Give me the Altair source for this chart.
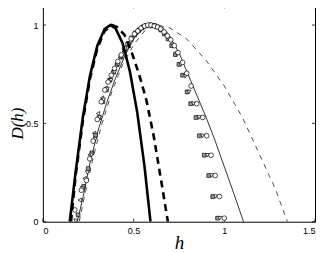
import altair as alt
import pandas as pd

# ---- data ----
# thick solid curve
ts_h = [0.148, 0.18, 0.22, 0.26, 0.30, 0.34, 0.372, 0.40, 0.44, 0.48, 0.52, 0.56, 0.593]
ts_D = [0.0, 0.25, 0.53, 0.745, 0.895, 0.98, 1.0, 0.984, 0.906, 0.763, 0.556, 0.283, 0.0]
# thick dashed curve
td_h = [0.155, 0.18, 0.22, 0.26, 0.30, 0.34, 0.38, 0.41, 0.45, 0.49, 0.53, 0.57, 0.61, 0.65, 0.689]
td_D = [0.0, 0.23, 0.51, 0.73, 0.88, 0.97, 1.0, 0.99, 0.95, 0.86, 0.75, 0.62, 0.44, 0.22, 0.0]
# thin solid curve
ns_h = [0.19, 0.22, 0.26, 0.30, 0.35, 0.40, 0.45, 0.50, 0.55, 0.60, 0.65, 0.70, 0.75, 0.80, 0.85, 0.90, 0.95, 1.00, 1.05, 1.106]
ns_D = [0.0, 0.12, 0.30, 0.45, 0.60, 0.73, 0.84, 0.93, 0.98, 1.0, 0.985, 0.94, 0.86, 0.75, 0.64, 0.53, 0.41, 0.28, 0.15, 0.0]
# thin dashed curve
nd_h = [0.20, 0.23, 0.27, 0.32, 0.38, 0.44, 0.50, 0.56, 0.63, 0.70, 0.79, 0.90, 1.00, 1.10, 1.20, 1.28, 1.348]
nd_D = [0.0, 0.13, 0.30, 0.48, 0.66, 0.80, 0.90, 0.97, 1.0, 0.985, 0.932, 0.82, 0.69, 0.53, 0.33, 0.17, 0.0]

# circles
c_h = [0.176, 0.212, 0.240, 0.258, 0.277, 0.300, 0.322, 0.341, 0.359, 0.377, 0.395, 0.413, 0.432,
       0.450, 0.468, 0.486, 0.505, 0.523, 0.541, 0.560, 0.578, 0.596, 0.614, 0.632, 0.650, 0.668,
       0.686, 0.705, 0.725, 0.745, 0.770, 0.793, 0.817, 0.848, 0.881, 0.903, 0.927, 0.950, 0.973, 1.000]
c_D = [0.06, 0.16, 0.21, 0.32, 0.41, 0.52, 0.61, 0.67, 0.71, 0.745, 0.78, 0.815, 0.848,
       0.88, 0.905, 0.93, 0.955, 0.97, 0.985, 0.995, 1.0, 1.0, 0.995, 0.99, 0.98, 0.965,
       0.945, 0.925, 0.895, 0.86, 0.81, 0.755, 0.69, 0.60, 0.53, 0.437, 0.338, 0.235, 0.128, 0.018]
# gray squares
s_h = [0.194, 0.225, 0.250, 0.270, 0.290, 0.310, 0.330, 0.350, 0.370, 0.390, 0.410, 0.430, 0.450,
       0.470, 0.490, 0.510, 0.530, 0.550, 0.570, 0.590, 0.610, 0.630, 0.650, 0.670, 0.690, 0.710,
       0.730, 0.750, 0.770, 0.795, 0.815, 0.844, 0.863, 0.890, 0.914, 0.936, 0.963]
s_D = [0.035, 0.18, 0.27, 0.35, 0.44, 0.53, 0.61, 0.67, 0.72, 0.76, 0.80, 0.84, 0.875,
       0.905, 0.935, 0.96, 0.975, 0.99, 0.998, 1.0, 0.998, 0.99, 0.975, 0.955, 0.93, 0.895,
       0.85, 0.80, 0.745, 0.66, 0.60, 0.53, 0.437, 0.338, 0.235, 0.128, 0.018]
# down triangles
t_h = [0.181, 0.218, 0.245, 0.268, 0.288, 0.312, 0.335, 0.355, 0.375, 0.395, 0.415, 0.435, 0.455,
       0.475, 0.495, 0.515, 0.535, 0.555, 0.575, 0.595, 0.615, 0.635, 0.655, 0.675, 0.695, 0.715,
       0.738, 0.760, 0.785, 0.805, 0.830, 0.860, 0.880, 0.907, 0.930, 0.952, 0.975]
t_D = [0.005, 0.17, 0.25, 0.34, 0.42, 0.53, 0.62, 0.675, 0.72, 0.76, 0.80, 0.84, 0.87,
       0.90, 0.93, 0.955, 0.975, 0.99, 0.998, 1.0, 0.998, 0.99, 0.975, 0.955, 0.93, 0.90,
       0.855, 0.80, 0.74, 0.66, 0.60, 0.53, 0.437, 0.338, 0.235, 0.128, 0.018]
# left triangles
l_h = [0.203, 0.230, 0.258, 0.282, 0.304, 0.326, 0.346, 0.366, 0.386, 0.406, 0.426, 0.446, 0.466,
       0.486, 0.506, 0.526, 0.546, 0.566, 0.586]
l_D = [0.11, 0.22, 0.34, 0.45, 0.55, 0.63, 0.68, 0.725, 0.765, 0.80, 0.835, 0.865, 0.895,
       0.925, 0.95, 0.97, 0.985, 0.995, 1.0]

x_ticks = [0, 0.5, 1, 1.5]
y_ticks = [0, 0.5, 1]

W, H = 273, 217
xs = alt.Scale(domain=[0, 1.5], nice=False)
ys = alt.Scale(domain=[0, 1.1], nice=False)

lbl = "datum.value == 0 ? '0' : datum.value == 1 ? '1' : datum.value == 0.5 ? '0.5' : '1.5'"

xax = alt.Axis(values=x_ticks, ticks=False, domain=False, grid=False, labelFontSize=9,
               labelFont="Liberation Sans", labelColor="black", labelPadding=5,
               labelExpr=lbl,
               title="h", titleFont="Liberation Serif", titleFontStyle="italic",
               titleFontWeight="normal", titleFontSize=19, titleColor="black",
               titlePadding=0, titleY=21, titleBaseline="middle")
yax = alt.Axis(values=y_ticks, ticks=False, domain=False, grid=False, labelFontSize=9,
               labelFont="Liberation Sans", labelColor="black", labelPadding=5,
               labelExpr=lbl,
               title="D(h)", titleFont="Liberation Serif", titleFontStyle="italic",
               titleFontWeight="normal", titleFontSize=17, titleColor="black",
               titleX=-25, titleY=118, titleAngle=-90, titleAlign="center",
               titleBaseline="middle")


def line_layer(h, d, width, dash=None):
    df = pd.DataFrame({"h": h, "D": d})
    kw = dict(color="black", strokeWidth=width, clip=True)
    if dash:
        kw["strokeDash"] = dash
    return alt.Chart(df).mark_line(**kw).encode(
        x=alt.X("h:Q", scale=xs, axis=xax),
        y=alt.Y("D:Q", scale=ys, axis=yax),
    )


def point_layer(h, d, shape, fill, size):
    df = pd.DataFrame({"h": h, "D": d})
    return alt.Chart(df).mark_point(shape=shape, filled=True, fill=fill, stroke="black",
                                    strokeWidth=0.7, size=size, opacity=1).encode(
        x=alt.X("h:Q", scale=xs, axis=xax),
        y=alt.Y("D:Q", scale=ys, axis=yax),
    )


# inside ticks (box style)
xt = pd.DataFrame({"v": x_ticks})
yt = pd.DataFrame({"v": y_ticks})
tick_bot = alt.Chart(xt).mark_rule(color="black", strokeWidth=0.8).encode(
    x=alt.X("v:Q", scale=xs, axis=xax), y=alt.value(H), y2=alt.value(H - 3))
tick_top = alt.Chart(xt).mark_rule(color="black", strokeWidth=0.8).encode(
    x=alt.X("v:Q", scale=xs, axis=xax), y=alt.value(0), y2=alt.value(3))
tick_left = alt.Chart(yt).mark_rule(color="black", strokeWidth=0.8).encode(
    y=alt.Y("v:Q", scale=ys, axis=yax), x=alt.value(0), x2=alt.value(3))
tick_right = alt.Chart(yt).mark_rule(color="black", strokeWidth=0.8).encode(
    y=alt.Y("v:Q", scale=ys, axis=yax), x=alt.value(W), x2=alt.value(W - 3))

chart = alt.layer(
    tick_bot, tick_top, tick_left, tick_right,
    line_layer(ns_h, ns_D, 0.8),
    line_layer(nd_h, nd_D, 0.7, [5, 5]),
    point_layer(l_h, l_D, "triangle-left", "white", 16),
    point_layer(s_h, s_D, "square", "#9a9a9a", 14),
    point_layer(t_h, t_D, "triangle-down", "white", 16),
    point_layer(c_h, c_D, "circle", "white", 22),
    line_layer(td_h, td_D, 2.6, [7, 5]),
    line_layer(ts_h, ts_D, 2.6),
).properties(
    width=W, height=H,
    autosize=alt.AutoSizeParams(type="none"),
    padding={"left": 35, "top": -3, "right": 4, "bottom": 30},
    background="white",
).configure_view(stroke="black", strokeWidth=1)

chart.save("out.html", embed_options={"renderer": "svg", "actions": False})
